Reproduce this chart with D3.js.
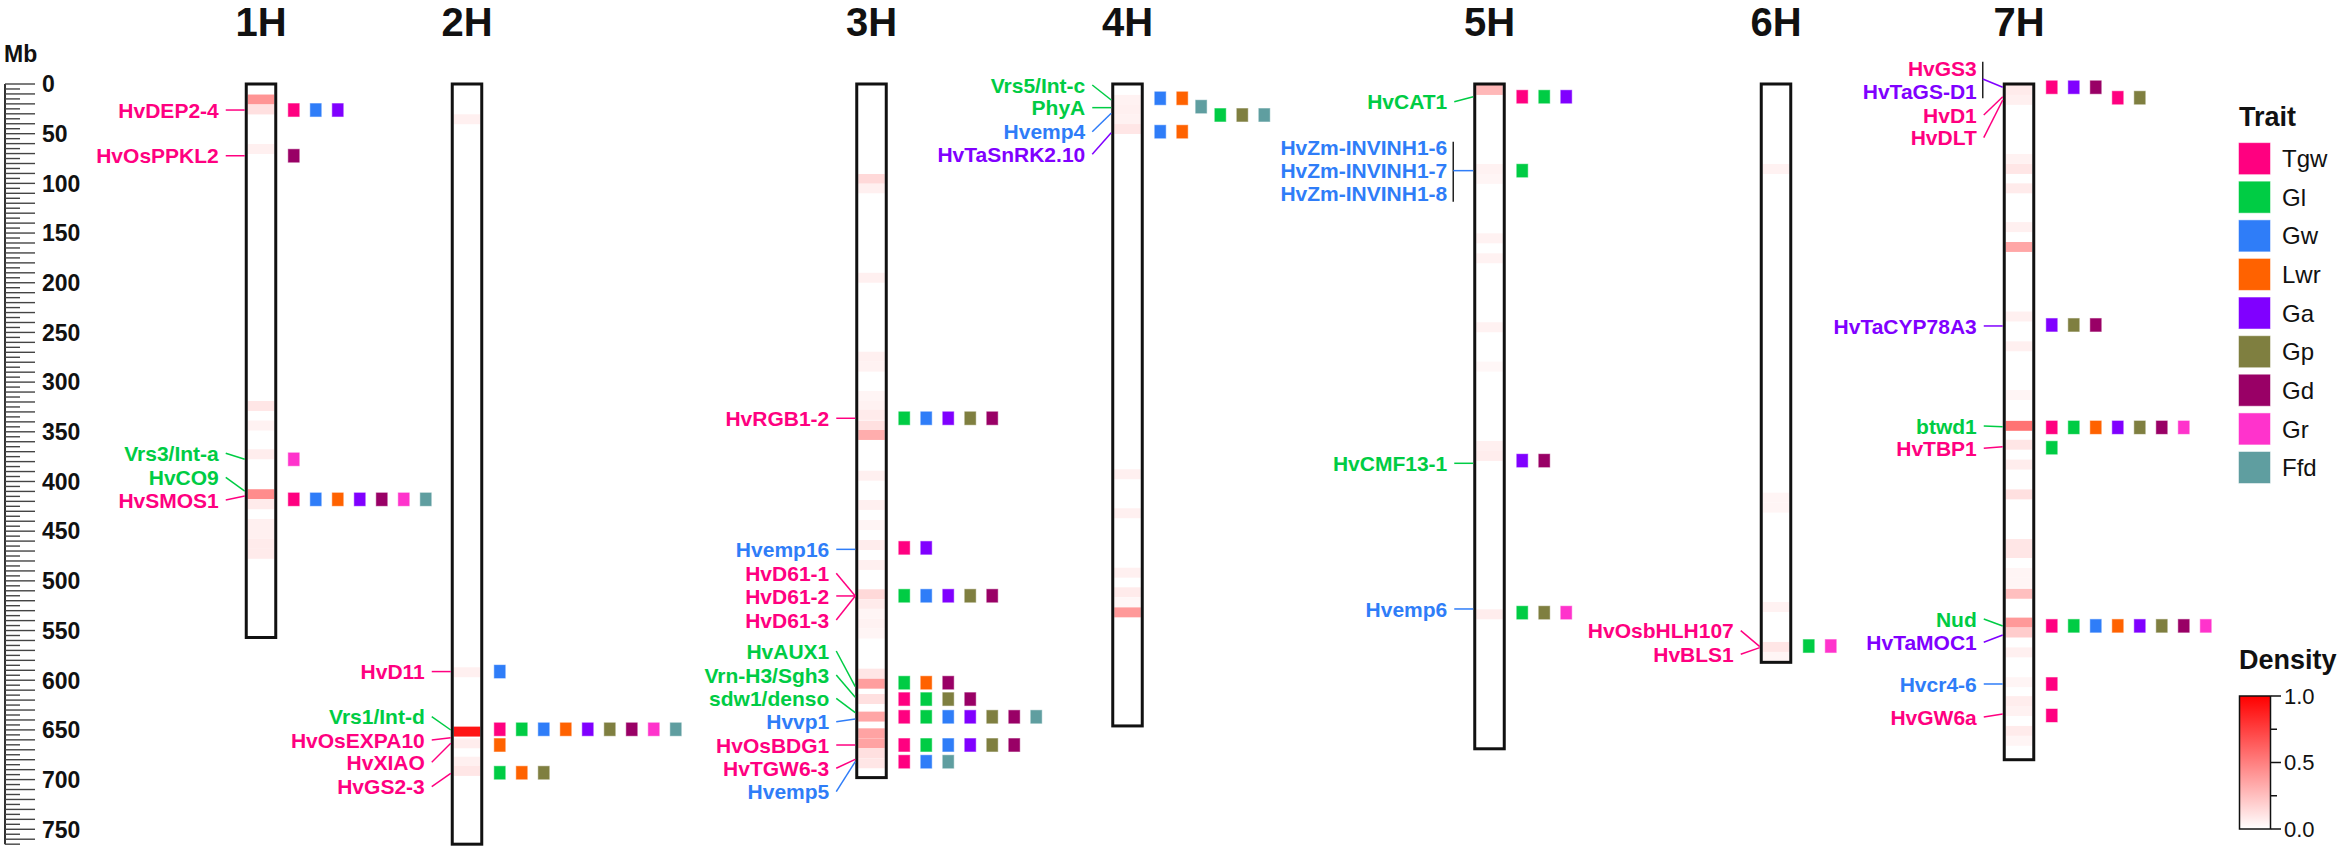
<!DOCTYPE html>
<html><head><meta charset="utf-8">
<script src="https://cdn.jsdelivr.net/npm/d3@7"></script>
<style>body{margin:0;background:#fff}svg{display:block}text{font-family:"Liberation Sans",Arial,sans-serif}</style>
</head><body><svg id="c" width="2342" height="854"></svg>
<script>
// ---------------- data ----------------
const chromosomes = ["1H","2H","3H","4H","5H","6H","7H"];
const chromLengths = [557,765,698,646,669,582,680];
const traits = ["Tgw","Gl","Gw","Lwr","Ga","Gp","Gd","Gr","Ffd"];
const traitColors = ["#FF0080","#00CC44","#2F7DF8","#FF6200","#8000FF","#7F7F40","#990066","#FF33CC","#5F9EA0"];
const rulerLabels = [0,50,100,150,200,250,300,350,400,450,500,550,600,650,700,750];
const densityTicks = [0,0.25,0.5,0.75,1];
const densityLabels = ["0.0","","0.5","","1.0"];

// density bins: [start Mb, density] (10 Mb bins)
const density1H = [[10.6,0.42],[20.6,0.12],[60.4,0.06],[319,0.1],[338.7,0.05],[367.6,0.07],[407.8,0.45],[417.9,0.08],[437.8,0.06],[447.8,0.06],[457.8,0.08],[467.8,0.08]];
const density2H = [[30.5,0.06],[587,0.06],[646.7,0.92],[658.5,0.07],[677,0.06],[686.3,0.1]];
const density3H = [[90.6,0.15],[100,0.06],[190,0.06],[269.4,0.06],[279.4,0.05],[309,0.04],[319,0.05],[328,0.08],[338.7,0.12],[348.2,0.32],[389.2,0.06],[418.6,0.06],[438.8,0.04],[458.9,0.07],[479,0.06],[508.5,0.15],[518.6,0.08],[528,0.04],[538,0.05],[548,0.04],[588.4,0.1],[598.5,0.38],[613.9,0.12],[631.6,0.35],[648.4,0.36],[658.5,0.36],[668.5,0.12],[678.6,0.1]];
const density4H = [[11,0.05],[21,0.06],[31,0.05],[40.3,0.1],[387.7,0.06],[427,0.06],[486.8,0.06],[506.5,0.08],[516.6,0.03],[526.7,0.4]];
const density5H = [[1,0.28],[80.5,0.05],[90.5,0.04],[150.3,0.05],[170.4,0.05],[239.8,0.05],[279.4,0.03],[359.3,0.06],[369.3,0.07],[528.7,0.07]];
const density6H = [[80.5,0.05],[411.3,0.04],[421.3,0.04],[521.3,0.05],[561.5,0.1],[571.6,0.04]];
const density7H = [[1,0.08],[11,0.06],[70.4,0.05],[80.5,0.1],[100,0.08],[139,0.06],[159,0.35],[229,0.06],[259,0.06],[308,0.04],[339,0.55],[358,0.1],[378,0.07],[408,0.12],[458,0.1],[467,0.1],[487,0.04],[497,0.04],[508,0.25],[537,0.4],[547,0.2],[567,0.06],[597,0.04],[616,0.07],[626,0.05],[646,0.08],[656,0.04]];

// gene labels: [name, label trait colour, gene Mb, label Mb]
const genes1H = [["HvDEP2-4","Tgw",26.2,26.2],["HvOsPPKL2","Tgw",72.2,72.2],["Vrs3/Int-a","Gl",377.7,371.6],["HvCO9","Gl",409.6,395.8],["HvSMOS1","Tgw",414.6,418.6]];
const genes2H = [["HvD11","Tgw",591.3,591.3],["Vrs1/Int-d","Gl",650.1,636.7],["HvOsEXPA10","Tgw",657.8,660.2],["HvXIAO","Tgw",663.5,682.6],["HvGS2-3","Tgw",693.7,707.1]];
const genes3H = [["HvRGB1-2","Tgw",336.4,336.4],["Hvemp16","Gw",468.3,468.3],["HvD61-1","Tgw",515.2,492.4],["HvD61-2","Tgw",515.2,515.2],["HvD61-3","Tgw",515.2,539.4],["HvAUX1","Gl",606.5,570.6],["Vrn-H3/Sgh3","Gl",617.2,594.7],["sdw1/denso","Gl",632.6,618.2],["Hvvp1","Gw",639,641.7],["HvOsBDG1","Tgw",665.2,665.2],["HvTGW6-3","Tgw",679.6,688.6],["Hvemp5","Gw",682,712.1]];
const genes4H = [["Vrs5/Int-c","Gl",16.1,1],["PhyA","Gl",23.8,23.8],["Hvemp4","Gw",29.5,48],["HvTaSnRK2.10","Ga",49,70.7]];
const genes5H = [["HvCAT1","Gl",12.8,17.8],["HvZm-INVINH1-6","Gw",null,64.1],["HvZm-INVINH1-7","Gw",null,87.2],["HvZm-INVINH1-8","Gw",null,110],["HvCMF13-1","Gl",381.7,381.7],["Hvemp6","Gw",528.3,528.3]];
const genes6H = [["HvOsbHLH107","Tgw",566.2,550.1],["HvBLS1","Tgw",567.2,573.9]];
const genes7H = [["HvGS3","Tgw",null,-15.8],["HvTaGS-D1","Ga",null,7],["HvD1","Tgw",12.8,31.2],["HvDLT","Tgw",16.1,54],["HvTaCYP78A3","Ga",243.5,243.5],["btwd1","Gl",344.9,344.2],["HvTBP1","Tgw",365,366.6],["Nud","Gl",545.4,538.4],["HvTaMOC1","Ga",554.5,561.8],["Hvcr4-6","Gw",603.8,603.8],["HvGW6a","Tgw",634,637]];

// bracketed label groups: [chrom, bracket top Mb, bracket bottom Mb, connector start Mb, gene Mb, trait]
const bracketGroups = [["5H",58,118.4,87.2,87.2,"Gw"],["7H",-22.4,14.4,-5,3.3,"Ga"]];

// trait marker rows: [Mb, column offset, traits]
const markers1H = [[26.2,0,["Tgw","Gw","Ga"]],[72.2,0,["Gd"]],[377.7,0,["Gr"]],[418,0,["Tgw","Gw","Lwr","Ga","Gd","Gr","Ffd"]]];
const markers2H = [[591.3,0,["Gw"]],[649.4,0,["Tgw","Gl","Gw","Lwr","Ga","Gp","Gd","Gr","Ffd"]],[665.2,0,["Lwr"]],[693.1,0,["Gl","Lwr","Gp"]]];
const markers3H = [[336.4,0,["Gl","Gw","Ga","Gp","Gd"]],[466.8,0,["Tgw","Ga"]],[515,0,["Gl","Gw","Ga","Gp","Gd"]],[602.5,0,["Gl","Lwr","Gd"]],[619,0,["Tgw","Gl","Gp","Gd"]],[636.8,0,["Tgw","Gl","Gw","Ga","Gp","Gd","Ffd"]],[665.2,0,["Tgw","Gl","Gw","Ga","Gp","Gd"]],[682,0,["Tgw","Gw","Ffd"]]];
const markers4H = [[14.4,0,["Gw","Lwr"]],[22.8,1.86,["Ffd"]],[31.2,2.73,["Gl","Gp","Ffd"]],[48,0,["Gw","Lwr"]]];
const markers5H = [[12.8,0,["Tgw","Gl","Ga"]],[87.2,0,["Gl"]],[379,0,["Ga","Gd"]],[532,0,["Gl","Gp","Gr"]]];
const markers6H = [[565.6,0,["Gl","Gr"]]];
const markers7H = [[3.3,0,["Tgw","Ga","Gd"]],[13.8,3,["Tgw","Gp"]],[242.5,0,["Ga","Gp","Gd"]],[345.6,0,["Tgw","Gl","Lwr","Ga","Gp","Gd","Gr"]],[366,0,["Gl"]],[545.3,0,["Tgw","Gl","Gw","Lwr","Ga","Gp","Gd","Gr"]],[603.8,0,["Tgw"]],[635.5,0,["Tgw"]]];

const densityByChrom = [density1H,density2H,density3H,density4H,density5H,density6H,density7H];
const genesByChrom = [genes1H,genes2H,genes3H,genes4H,genes5H,genes6H,genes7H];
const markersByChrom = [markers1H,markers2H,markers3H,markers4H,markers5H,markers6H,markers7H];

// ---------------- layout ----------------
const chromCenters = [261,467,871.5,1127.5,1489.5,1776,2019];
const boxW = 29.5, boxStroke = 3;
const svg = d3.select("#c");
const FONT = '"Liberation Sans",Arial,sans-serif';

const y = d3.scaleLinear().domain([0,750]).range([84, 84 + 750*0.9937]);
const xChrom = d3.scaleOrdinal().domain(chromosomes).range(chromCenters);
const color = d3.scaleOrdinal().domain(traits).range(traitColors);
const dens = d3.scaleLinear().domain([0,1]).range(["#ffffff","#ff0000"]);

// ruler
const ruler = svg.append("g");
ruler.append("line").attr("x1",5).attr("x2",5).attr("y1",y(0)).attr("y2",y(765)).attr("stroke","#333").attr("stroke-width",2);
const rulerMinor = d3.range(0,766,5);
ruler.selectAll("line.t").data(rulerMinor).join("line").attr("class","t")
  .attr("x1",5).attr("x2",d=>d%10===0?35:20).attr("y1",d=>y(d)).attr("y2",d=>y(d))
  .attr("stroke","#444").attr("stroke-width",1.4);
ruler.selectAll("text").data(rulerLabels).join("text")
  .attr("x",42).attr("y",d=>y(d)).attr("dy","0.36em")
  .attr("font-size",23).attr("font-weight","bold").attr("fill","#111").text(d=>d);
svg.append("text").attr("x",4).attr("y",61.5).attr("font-size",23).attr("font-weight","bold").attr("fill","#111").text("Mb");

// chromosomes
chromosomes.forEach((c,i)=>{
  const cx = xChrom(c);
  const len = chromLengths[i];
  const g = svg.append("g");
  const left = cx - boxW/2;
  const outerL = left - boxStroke/2, outerR = left + boxW + boxStroke/2;
  g.append("text").attr("x",cx).attr("y",36).attr("text-anchor","middle")
    .attr("font-size",40).attr("font-weight","bold").attr("fill","#111").text(c);
  g.append("rect").attr("x",left).attr("y",y(0)).attr("width",boxW).attr("height",y(len)-y(0)).attr("fill","#fff");
  g.selectAll("rect.band").data(densityByChrom[i]).join("rect").attr("class","band")
    .attr("x",left+1.5).attr("width",boxW-3)
    .attr("y",d=>y(d[0])).attr("height",d=>y(d[0]+10)-y(d[0]))
    .attr("fill",d=>dens(d[1]));
  g.append("rect").attr("x",left).attr("y",y(0)).attr("width",boxW).attr("height",y(len)-y(0))
    .attr("fill","none").attr("stroke","#111").attr("stroke-width",boxStroke);

  // labels
  const genes = genesByChrom[i];
  g.selectAll("text.gene").data(genes).join("text").attr("class","gene")
    .attr("x",outerL-26).attr("y",d=>y(d[3])).attr("dy","0.36em").attr("text-anchor","end")
    .attr("font-size",21).attr("font-weight","bold").attr("fill",d=>color(d[1])).text(d=>d[0]);
  g.selectAll("line.conn").data(genes.filter(d=>d[2]!==null)).join("line").attr("class","conn")
    .attr("x1",outerL-19).attr("x2",outerL).attr("y1",d=>y(d[3])).attr("y2",d=>y(d[2]))
    .attr("stroke",d=>color(d[1])).attr("stroke-width",1.5);

  // markers
  const cells = [];
  markersByChrom[i].forEach(r=>r[2].forEach((t,k)=>cells.push({mb:r[0],col:r[1]+k,t})));
  g.selectAll("rect.mk").data(cells).join("rect").attr("class","mk")
    .attr("x",d=>outerR+11+d.col*22).attr("y",d=>y(d.mb)-6.5).attr("width",11).attr("height",13)
    .attr("fill",d=>color(d.t)).attr("stroke",d=>color(d.t)).attr("stroke-opacity",0.45).attr("stroke-width",1);
});

// bracket groups
bracketGroups.forEach(b=>{
  const cx = xChrom(b[0]);
  const outerL = cx - boxW/2 - boxStroke/2;
  const bx = outerL - 20;
  svg.append("line").attr("x1",bx).attr("x2",bx).attr("y1",y(b[1])).attr("y2",y(b[2]))
    .attr("stroke","#222").attr("stroke-width",1.5);
  svg.append("line").attr("x1",bx).attr("x2",outerL).attr("y1",y(b[3])).attr("y2",y(b[4]))
    .attr("stroke",color(b[5])).attr("stroke-width",1.5);
});

// legend: Trait
const lg = svg.append("g");
lg.append("text").attr("x",2239).attr("y",126).attr("font-size",27).attr("font-weight","bold").attr("fill","#111").text("Trait");
const ly = d3.scalePoint().domain(traits).range([158.6,467.5]);
lg.selectAll("rect").data(traits).join("rect")
  .attr("x",2239).attr("y",d=>ly(d)-15.5).attr("width",31).attr("height",31)
  .attr("fill",d=>color(d)).attr("stroke",d=>color(d)).attr("stroke-opacity",0.5);
lg.selectAll("text.l").data(traits).join("text").attr("class","l")
  .attr("x",2282).attr("y",d=>ly(d)).attr("dy","0.36em").attr("font-size",24).attr("fill","#111").text(d=>d);

// legend: Density
const dg = svg.append("g");
dg.append("text").attr("x",2239).attr("y",669).attr("font-size",27).attr("font-weight","bold").attr("fill","#111").text("Density");
const defs = svg.append("defs");
const grad = defs.append("linearGradient").attr("id","dg").attr("x1",0).attr("x2",0).attr("y1",1).attr("y2",0);
grad.append("stop").attr("offset","0%").attr("stop-color",dens(0));
grad.append("stop").attr("offset","100%").attr("stop-color",dens(1));
const cy = d3.scaleLinear().domain([0,1]).range([829,696]);
dg.append("rect").attr("x",2239.5).attr("y",cy(1)).attr("width",31).attr("height",cy(0)-cy(1))
  .attr("fill","url(#dg)").attr("stroke","#111").attr("stroke-width",1.5);
dg.selectAll("line").data(densityTicks).join("line")
  .attr("x1",2271).attr("x2",(d,i)=>i%2===0?2281:2277).attr("y1",d=>cy(d)).attr("y2",d=>cy(d))
  .attr("stroke","#111").attr("stroke-width",1.5);
dg.selectAll("text.t").data(densityTicks).join("text").attr("class","t")
  .attr("x",2284).attr("y",d=>cy(d)).attr("dy","0.36em").attr("font-size",22).attr("fill","#111")
  .text((d,i)=>densityLabels[i]);
</script></body></html>
